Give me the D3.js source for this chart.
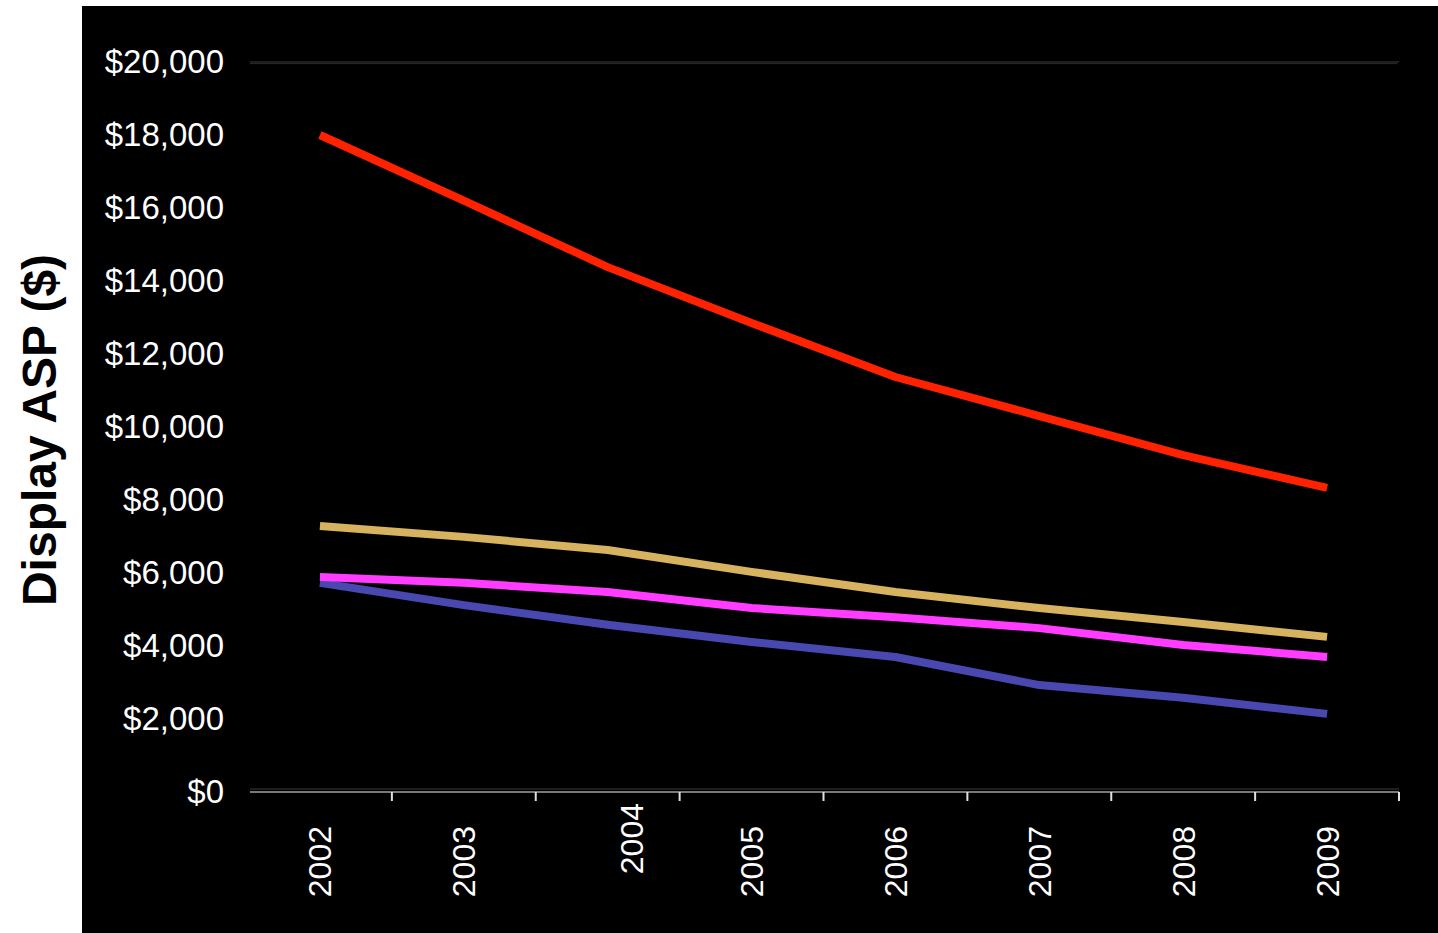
<!DOCTYPE html>
<html>
<head>
<meta charset="utf-8">
<script src="https://cdn.jsdelivr.net/npm/d3@7"></script>
<style>
  body { margin: 0; background: #fff; }
  text { font-family: "Liberation Sans", Arial, sans-serif; }
</style>
</head>
<body>
<svg width="1438" height="933"></svg>
<script>
const years = ["2002", "2003", "2004", "2005", "2006", "2007", "2008", "2009"];
const yTicks = [0, 2000, 4000, 6000, 8000, 10000, 12000, 14000, 16000, 18000, 20000];

// ASP values per series
const redSeries = [18000, 16200, 14380, 12850, 11370, 10300, 9230, 8330];
const goldSeries = [7290, 6990, 6630, 6030, 5480, 5040, 4660, 4250];
const pinkSeries = [5890, 5730, 5480, 5040, 4790, 4490, 4030, 3700];
const blueSeries = [5730, 5120, 4580, 4110, 3700, 2930, 2580, 2140];

const svg = d3.select("svg");

svg.append("rect")
  .attr("x", 82)
  .attr("y", 6)
  .attr("width", 1438 - 82)
  .attr("height", 933 - 6)
  .attr("fill", "#000");

const x = d3.scaleBand().domain(years).range([248, 1399]);
const y = d3.scaleLinear().domain([0, 20000]).range([792, 62]);

// top and bottom gridlines
[0, 20000].forEach(v => {
  svg.append("line")
    .attr("x1", 250).attr("x2", 1399)
    .attr("y1", y(v) - (v === 0 ? 3 : 0)).attr("y2", y(v) - (v === 0 ? 3 : 0))
    .attr("stroke", "#3c3c3c").attr("stroke-width", 1.2);
  if (v === 20000) {
    svg.append("line")
      .attr("x1", 250).attr("x2", 1397)
      .attr("y1", y(v) + 1.6).attr("y2", y(v) + 1.6)
      .attr("stroke", "#2a2a2a").attr("stroke-width", 1);
  }
});

// y tick labels
const yAxis = svg.append("g")
  .attr("transform", "translate(224,0)")
  .call(d3.axisLeft(y).tickValues(yTicks).tickFormat(d3.format("$,")).tickSize(0).tickPadding(0));
yAxis.select(".domain").remove();
yAxis.selectAll("text")
  .attr("fill", "#fff")
  .style("font-size", "33px")
  .style("font-family", "'Liberation Sans', Arial, sans-serif");

// x axis line and ticks
svg.append("line")
  .attr("x1", 250).attr("x2", 1399)
  .attr("y1", 792).attr("y2", 792)
  .attr("stroke", "#a0a0a0").attr("stroke-width", 1.5);

svg.selectAll(".xtick")
  .data(years)
  .enter()
  .append("line")
  .attr("class", "xtick")
  .attr("x1", d => x(d) + x.bandwidth())
  .attr("x2", d => x(d) + x.bandwidth())
  .attr("y1", 792)
  .attr("y2", 801)
  .attr("stroke", "#e0e0e0")
  .attr("stroke-width", 2);

// year labels, 2004 sits off its slot in the original
svg.selectAll(".xlabel")
  .data(years)
  .enter()
  .append("text")
  .attr("class", "xlabel")
  .attr("transform", d => {
    const cx = x(d) + x.bandwidth() / 2 + (d === "2004" ? 24 : 0);
    const top = d === "2004" ? 803 : 826;
    return "translate(" + cx + "," + top + ") rotate(-90)";
  })
  .attr("dy", "0.36em")
  .attr("text-anchor", "end")
  .attr("fill", "#fff")
  .style("font-size", "32px")
  .text(d => d);

// y axis title
svg.append("text")
  .attr("transform", "translate(56,430) rotate(-90)")
  .attr("text-anchor", "middle")
  .attr("fill", "#000")
  .style("font-size", "48px")
  .style("font-weight", "bold")
  .text("Display ASP ($)");

const line = d3.line()
  .x((d, i) => x(years[i]) + x.bandwidth() / 2)
  .y(d => y(d));

const series = [
  { values: blueSeries, color: "#4848b0" },
  { values: pinkSeries, color: "#ff3cff" },
  { values: goldSeries, color: "#d7b25f" },
  { values: redSeries, color: "#ff2200" }
];

svg.selectAll(".series")
  .data(series)
  .enter()
  .append("path")
  .attr("class", "series")
  .attr("d", d => line(d.values))
  .attr("fill", "none")
  .attr("stroke", d => d.color)
  .attr("stroke-width", 8)
  .attr("stroke-linejoin", "round");
</script>
</body>
</html>
